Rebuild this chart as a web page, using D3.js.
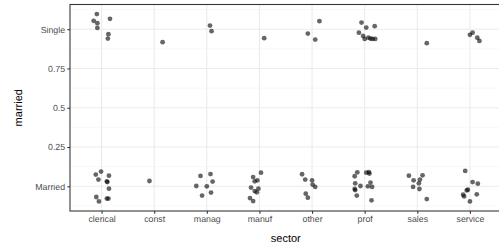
<!DOCTYPE html>
<html>
<head>
<meta charset="utf-8">
<script src="https://cdn.jsdelivr.net/npm/d3@7"></script>
<style>
  body { margin: 0; background: #fff; }
  svg { display: block; }
  svg text { font-family: "Liberation Sans", Arial, sans-serif; text-rendering: geometricPrecision; }
</style>
</head>
<body>
<div id="chart"></div>
<script>
// categories and tick labels
const sectors = ["clerical", "const", "manag", "manuf", "other", "prof", "sales", "service"];
const yTicks = [0, 0.25, 0.5, 0.75, 1];
const yTickLabels = ["Married", "0.25", "0.5", "0.75", "Single"];

// jittered points: sector, horizontal jitter (in category units), married value
const pointSector = [
  "clerical","clerical","clerical","clerical","clerical","clerical","clerical",
  "const","manag","manag","manuf",
  "other","other","other",
  "prof","prof","prof","prof","prof","prof","prof","prof","prof","prof",
  "sales","service","service","service","service",
  "clerical","clerical","clerical","clerical","clerical","clerical","clerical","clerical","clerical","clerical","clerical",
  "const",
  "manag","manag","manag","manag","manag","manag","manag",
  "manuf","manuf","manuf","manuf","manuf","manuf","manuf","manuf","manuf","manuf",
  "other","other","other","other","other","other","other",
  "prof","prof","prof","prof","prof","prof","prof","prof","prof","prof","prof","prof","prof","prof",
  "sales","sales","sales","sales","sales","sales","sales","sales",
  "service","service","service","service","service","service","service","service","service"
];
const pointDx = [
  -0.09,-0.15,-0.08,-0.08,0.16,0.13,0.12,
  0.16,0.06,0.09,0.09,
  0.14,-0.08,0.06,
  -0.06,0.03,0.19,-0.11,-0.03,0.00,0.07,0.11,0.20,0.15,
  0.18,0.05,0.00,0.14,0.18,
  -0.11,-0.01,-0.06,0.10,0.11,0.14,0.14,-0.10,-0.05,0.10,0.13,
  -0.09,
  -0.12,0.07,0.11,-0.20,0.00,-0.09,0.08,
  -0.12,0.03,-0.09,-0.04,-0.16,-0.02,-0.09,-0.05,-0.18,-0.12,
  -0.19,-0.13,0.00,0.01,0.06,-0.12,-0.08,
  -0.14,-0.19,-0.18,-0.19,-0.18,-0.15,-0.08,0.03,0.08,0.09,0.11,0.06,0.14,0.13,
  -0.16,-0.07,0.05,0.10,0.03,-0.08,0.04,0.18,
  -0.09,0.05,0.15,-0.04,-0.06,-0.13,-0.11,0.13,0.00
];
const pointMarried = [
  1.096,1.053,1.038,1.008,1.066,0.968,0.940,
  0.917,1.023,0.987,0.943,
  1.051,0.972,0.934,
  1.042,1.010,1.019,0.978,0.957,0.938,0.946,0.940,0.938,0.938,
  0.911,0.978,0.964,0.946,0.925,
  0.075,0.094,0.043,0.032,0.027,0.068,-0.015,-0.068,-0.096,-0.078,-0.078,
  0.034,
  0.066,0.078,0.030,0.002,0.000,-0.059,-0.040,
  0.059,0.087,0.032,0.038,-0.008,-0.015,-0.030,-0.038,-0.075,-0.094,
  0.077,0.043,0.038,0.011,-0.004,-0.047,-0.072,
  0.089,0.064,0.019,-0.017,-0.024,-0.059,0.002,0.087,0.091,0.081,0.024,0.000,-0.004,-0.089,
  0.068,0.038,0.043,0.070,0.019,-0.004,-0.017,-0.081,
  0.098,0.027,0.017,-0.021,-0.026,-0.053,-0.064,-0.051,-0.096
];

const width = 499;
const height = 248;
const margin = { top: 4.5, right: -2.5, bottom: 37, left: 70 };

const svg = d3.select("#chart")
  .append("svg")
  .attr("width", width)
  .attr("height", height);

const x = d3.scalePoint()
  .domain(sectors)
  .range([0, sectors.length - 1]);

// discrete axis expanded by 0.6 units each side
const xPos = d3.scaleLinear()
  .domain([-0.6, sectors.length - 0.4])
  .range([margin.left, width - margin.right]);

const y = d3.scaleLinear()
  .domain([-0.157, 1.157])
  .range([height - margin.bottom, margin.top]);

const panelW = xPos.range()[1] - margin.left;
const panelH = (height - margin.bottom) - margin.top;

// minor grid
const minorY = [-0.125, 0.125, 0.375, 0.625, 0.875, 1.125];
svg.append("g")
  .selectAll("line")
  .data(minorY)
  .enter()
  .append("line")
  .attr("x1", margin.left)
  .attr("x2", margin.left + panelW)
  .attr("y1", d => y(d))
  .attr("y2", d => y(d))
  .attr("stroke", "#f2f2f2")
  .attr("stroke-width", 0.55);

// major grid
svg.append("g")
  .selectAll("line")
  .data(yTicks)
  .enter()
  .append("line")
  .attr("x1", margin.left)
  .attr("x2", margin.left + panelW)
  .attr("y1", d => y(d))
  .attr("y2", d => y(d))
  .attr("stroke", "#ebebeb")
  .attr("stroke-width", 1.07);

svg.append("g")
  .selectAll("line")
  .data(sectors)
  .enter()
  .append("line")
  .attr("x1", d => xPos(x(d)))
  .attr("x2", d => xPos(x(d)))
  .attr("y1", margin.top)
  .attr("y2", height - margin.bottom)
  .attr("stroke", "#ebebeb")
  .attr("stroke-width", 1.07);

// points
svg.append("g")
  .selectAll("circle")
  .data(pointSector.map((s, i) => ({ s: s, dx: pointDx[i], v: pointMarried[i] })))
  .enter()
  .append("circle")
  .attr("cx", d => xPos(x(d.s) + d.dx))
  .attr("cy", d => y(d.v))
  .attr("r", 2.4)
  .attr("fill", "#000")
  .attr("fill-opacity", 0.6);

// panel border
svg.append("rect")
  .attr("x", margin.left)
  .attr("y", margin.top)
  .attr("width", panelW)
  .attr("height", panelH)
  .attr("fill", "none")
  .attr("stroke", "#333333")
  .attr("stroke-width", 1.07);

// axes
const xAxis = svg.append("g")
  .attr("transform", `translate(0, ${height - margin.bottom})`)
  .call(d3.axisBottom(d3.scaleOrdinal().domain(sectors).range(sectors.map(s => xPos(x(s)))))
    .tickSizeInner(2.7).tickSizeOuter(0).tickPadding(2.2));

const yAxis = svg.append("g")
  .attr("transform", `translate(${margin.left}, 0)`)
  .call(d3.axisLeft(y).tickValues(yTicks)
    .tickFormat((d, i) => yTickLabels[i])
    .tickSizeInner(2.7).tickSizeOuter(0).tickPadding(2.2));

[xAxis, yAxis].forEach(g => {
  g.attr("font-family", null).attr("font-size", 8.8);
  g.select(".domain").remove();
  g.selectAll(".tick line").attr("stroke", "#333333").attr("stroke-width", 1.07);
  g.selectAll(".tick text").attr("fill", "#4d4d4d");
});

// axis titles
svg.append("text")
  .attr("x", margin.left + panelW / 2)
  .attr("y", height - 6.5)
  .attr("text-anchor", "middle")
  .attr("font-size", 11)
  .attr("fill", "#000")
  .text("sector");

svg.append("text")
  .attr("transform", "rotate(-90)")
  .attr("x", -(margin.top + panelH / 2))
  .attr("y", 22)
  .attr("text-anchor", "middle")
  .attr("font-size", 11)
  .attr("fill", "#000")
  .text("married");
</script>
</body>
</html>
